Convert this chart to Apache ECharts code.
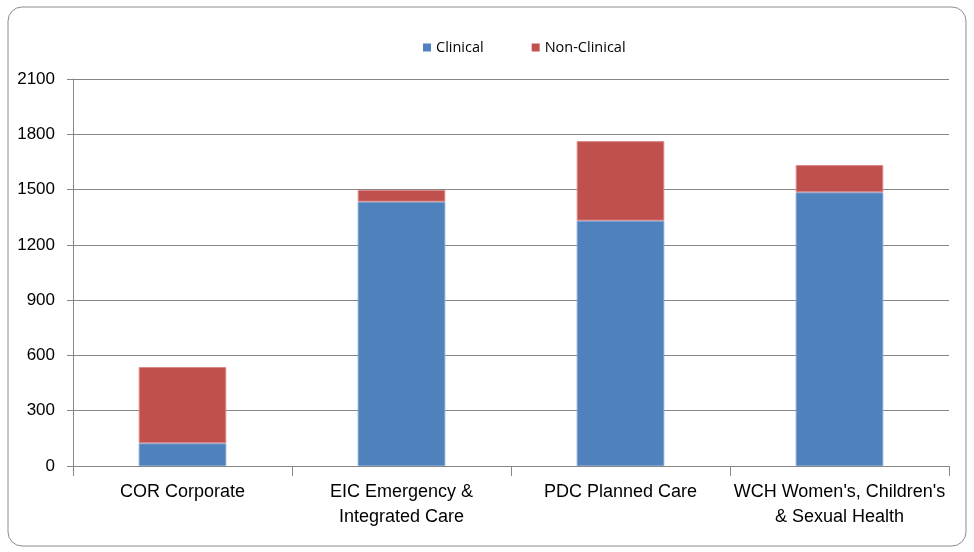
<!DOCTYPE html>
<html>
<head>
<meta charset="utf-8">
<script src="https://cdn.jsdelivr.net/npm/echarts@6/dist/echarts.min.js"></script>
<style>
html,body{margin:0;padding:0;background:#fff;}
#chart{width:974px;height:552px;}
</style>
</head>
<body>
<div id="chart"></div>
<script>
// Staff headcount by division, split into clinical and non-clinical roles
const categories = ['COR Corporate', 'EIC Emergency &\nIntegrated Care', 'PDC Planned Care', "WCH Women's, Children's\n& Sexual Health"];
const clinical = [123, 1434, 1331, 1485];
const nonClinical = [414, 64, 432, 148];
const yTicks = [0, 300, 600, 900, 1200, 1500, 1800, 2100];

const chart = echarts.init(document.getElementById('chart'));
chart.setOption({
  animation: false,
  graphic: [{
    type: 'rect',
    shape: { x: 8, y: 7, width: 958, height: 539, r: 14 },
    style: { fill: 'none', stroke: '#8c8c8c', lineWidth: 1 },
    z: -1
  }],
  legend: {
    top: 35,
    left: 418,
    itemWidth: 8,
    itemHeight: 8,
    itemGap: 48,
    icon: 'rect',
    itemStyle: { borderWidth: 0 },
    textStyle: { fontFamily: 'Open Sans', fontSize: 14.5, color: '#000', padding: [0, 0, 0, 0] },
    data: ['Clinical', 'Non-Clinical']
  },
  grid: { left: 73, right: 25, top: 79, bottom: 86, containLabel: false },
  xAxis: {
    type: 'category',
    data: categories,
    axisLine: { lineStyle: { color: '#868686', width: 1 } },
    axisTick: { show: true, length: 10, interval: 0, lineStyle: { color: '#868686' } },
    axisLabel: { interval: 0, color: '#000', fontFamily: 'Liberation Sans', fontSize: 18, lineHeight: 25, margin: 14 }
  },
  yAxis: {
    type: 'value',
    min: yTicks[0],
    max: yTicks[yTicks.length - 1],
    interval: 300,
    axisLine: { show: true, lineStyle: { color: '#868686', width: 1 } },
    axisTick: { show: true, length: 6, lineStyle: { color: '#868686' } },
    splitLine: { lineStyle: { color: '#868686', width: 1 } },
    axisLabel: {
      color: '#000', fontFamily: 'Liberation Sans', fontSize: 17, margin: 18,
      formatter: v => String(v)
    }
  },
  series: [
    {
      name: 'Clinical',
      type: 'bar',
      stack: 'total',
      barWidth: '40%',
      data: clinical,
      itemStyle: { color: '#4f81bd', borderColor: '#7fa3d1', borderWidth: 1 }
    },
    {
      name: 'Non-Clinical',
      type: 'bar',
      stack: 'total',
      barWidth: '40%',
      data: nonClinical,
      itemStyle: { color: '#c0504d', borderColor: '#d98a88', borderWidth: 1 }
    }
  ]
});
</script>
</body>
</html>
